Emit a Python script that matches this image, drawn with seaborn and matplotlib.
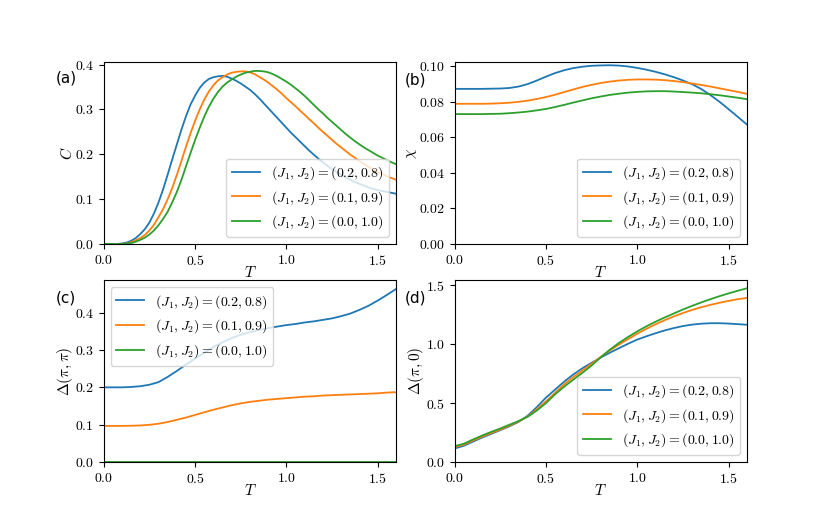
import numpy as np
import pandas as pd
import matplotlib
matplotlib.use("Agg")
import matplotlib.pyplot as plt
from matplotlib.ticker import MultipleLocator
import seaborn as sns

plt.rcParams['font.family'] = 'serif'
plt.rcParams['font.serif'] = ['cmr10']
plt.rcParams['mathtext.fontset'] = 'cm'
plt.rcParams['axes.formatter.use_mathtext'] = True
plt.rcParams['axes.unicode_minus'] = False

labels = [r'$(J_1, J_2) = (0.2, 0.8)$', r'$(J_1, J_2) = (0.1, 0.9)$', r'$(J_1, J_2) = (0.0, 1.0)$']
colors = ['#1f77b4', '#ff7f0e', '#2ca02c']

# temperature grids: step 0.025 for panel (a), step 0.05 for (b), (c), (d)
T_a = np.linspace(0.0, 1.6, 65)
T = np.linspace(0.0, 1.6, 33)

# (a) specific heat C
C_a = [0.000, 0.000, 0.000, 0.000, 0.001, 0.003, 0.007, 0.013, 0.022, 0.033, 0.048, 0.068, 0.093,
       0.122, 0.155, 0.189, 0.222, 0.255, 0.285, 0.311, 0.331, 0.348, 0.360, 0.368, 0.372, 0.374,
       0.375, 0.373, 0.369, 0.364, 0.358, 0.351, 0.344, 0.335, 0.325, 0.314, 0.303, 0.292, 0.281,
       0.270, 0.259, 0.248, 0.238, 0.228, 0.218, 0.208, 0.199, 0.190, 0.182, 0.174, 0.167, 0.160,
       0.154, 0.148, 0.143, 0.138, 0.134, 0.130, 0.126, 0.123, 0.120, 0.118, 0.116, 0.114, 0.112]
C_b = [0.000, 0.000, 0.000, 0.000, 0.000, 0.001, 0.004, 0.008, 0.013, 0.020, 0.030, 0.043, 0.060,
       0.078, 0.100, 0.125, 0.154, 0.185, 0.217, 0.247, 0.275, 0.300, 0.322, 0.340, 0.354, 0.365,
       0.372, 0.378, 0.382, 0.384, 0.385, 0.385, 0.383, 0.379, 0.373, 0.367, 0.360, 0.352, 0.344,
       0.335, 0.325, 0.316, 0.307, 0.297, 0.288, 0.278, 0.269, 0.259, 0.250, 0.241, 0.232, 0.223,
       0.215, 0.207, 0.199, 0.192, 0.185, 0.178, 0.172, 0.166, 0.161, 0.156, 0.151, 0.147, 0.143]
C_c = [0.000, 0.000, 0.000, 0.000, 0.000, 0.001, 0.002, 0.005, 0.009, 0.014, 0.021, 0.030, 0.042,
       0.056, 0.072, 0.093, 0.116, 0.143, 0.173, 0.203, 0.232, 0.259, 0.284, 0.306, 0.324, 0.339,
       0.351, 0.360, 0.367, 0.373, 0.378, 0.382, 0.384, 0.386, 0.386, 0.385, 0.383, 0.379, 0.374,
       0.368, 0.362, 0.355, 0.347, 0.339, 0.330, 0.320, 0.310, 0.300, 0.291, 0.281, 0.272, 0.263,
       0.254, 0.245, 0.237, 0.229, 0.222, 0.215, 0.209, 0.203, 0.197, 0.192, 0.187, 0.182, 0.178]

# (b) susceptibility chi
chi_a = [0.0873, 0.0873, 0.0873, 0.0873, 0.0874, 0.0875, 0.0878, 0.0886, 0.0900, 0.0920, 0.0942,
         0.0962, 0.0978, 0.0990, 0.0998, 0.1003, 0.1005, 0.1006, 0.1004, 0.0999, 0.0991, 0.0981,
         0.0969, 0.0955, 0.0939, 0.0920, 0.0899, 0.0872, 0.0838, 0.0800, 0.0758, 0.0715, 0.0672]
chi_b = [0.0789, 0.0789, 0.0789, 0.0789, 0.0790, 0.0792, 0.0795, 0.0800, 0.0807, 0.0816, 0.0827,
         0.0840, 0.0855, 0.0870, 0.0884, 0.0896, 0.0906, 0.0914, 0.0920, 0.0924, 0.0926, 0.0926,
         0.0925, 0.0922, 0.0917, 0.0911, 0.0903, 0.0895, 0.0886, 0.0876, 0.0866, 0.0856, 0.0845]
chi_c = [0.0731, 0.0731, 0.0731, 0.0731, 0.0732, 0.0733, 0.0736, 0.0740, 0.0745, 0.0752, 0.0760,
         0.0771, 0.0783, 0.0796, 0.0808, 0.0820, 0.0830, 0.0839, 0.0846, 0.0852, 0.0856, 0.0859,
         0.0860, 0.0860, 0.0858, 0.0855, 0.0852, 0.0848, 0.0843, 0.0837, 0.0830, 0.0823, 0.0815]

# (c) gap at (pi, pi)
dpp_a = [0.200, 0.200, 0.200, 0.201, 0.203, 0.207, 0.214, 0.228, 0.244, 0.261, 0.277, 0.293, 0.308,
         0.321, 0.332, 0.341, 0.348, 0.354, 0.359, 0.363, 0.367, 0.370, 0.374, 0.377, 0.381, 0.385,
         0.391, 0.398, 0.408, 0.419, 0.433, 0.448, 0.464]
dpp_b = [0.0965, 0.0965, 0.0966, 0.0970, 0.0978, 0.0995, 0.1025, 0.107, 0.113, 0.119, 0.126, 0.133,
         0.140, 0.146, 0.152, 0.157, 0.161, 0.164, 0.167, 0.169, 0.171, 0.173, 0.175, 0.176, 0.178,
         0.179, 0.180, 0.181, 0.182, 0.183, 0.184, 0.186, 0.187]
dpp_c = [0.0] * 33

# (d) gap at (pi, 0)
dp0_a = [0.114, 0.137, 0.172, 0.207, 0.238, 0.270, 0.303, 0.340, 0.393, 0.466, 0.547, 0.615, 0.683,
         0.744, 0.797, 0.843, 0.887, 0.929, 0.967, 1.005, 1.040, 1.068, 1.094, 1.118, 1.138, 1.155,
         1.167, 1.175, 1.179, 1.179, 1.176, 1.171, 1.166]
dp0_b = [0.126, 0.146, 0.181, 0.215, 0.245, 0.275, 0.309, 0.344, 0.386, 0.448, 0.515, 0.588, 0.660,
         0.722, 0.778, 0.835, 0.893, 0.948, 0.998, 1.045, 1.090, 1.132, 1.170, 1.205, 1.237, 1.266,
         1.292, 1.315, 1.335, 1.353, 1.369, 1.383, 1.394]
dp0_c = [0.134, 0.154, 0.190, 0.224, 0.255, 0.284, 0.316, 0.347, 0.384, 0.437, 0.500, 0.575, 0.640,
         0.700, 0.758, 0.820, 0.890, 0.955, 1.012, 1.063, 1.110, 1.153, 1.192, 1.228, 1.262, 1.296,
         1.327, 1.356, 1.383, 1.409, 1.433, 1.455, 1.476]

panels = [
    (T_a, [C_a, C_b, C_c], r'$C$', 'lower right', '(a)', (-0.163, 0.915)),
    (T, [chi_a, chi_b, chi_c], r'$\chi$', 'lower right', '(b)', (-0.172, 0.900)),
    (T, [dpp_a, dpp_b, dpp_c], r'$\Delta(\pi, \pi)$', 'upper left', '(c)', (-0.163, 0.900)),
    (T, [dp0_a, dp0_b, dp0_c], r'$\Delta(\pi, 0)$', 'lower right', '(d)', (-0.170, 0.905)),
]

fig, axes = plt.subplots(2, 2, figsize=(8.3, 5.19), dpi=100)
for ax, (Tg, series, ylab, loc, tag, pos) in zip(axes.flat, panels):
    for vals, lab, col in zip(series, labels, colors):
        df = pd.DataFrame({'T': Tg, 'v': vals})
        sns.lineplot(data=df, x='T', y='v', ax=ax, color=col, label=lab, linewidth=1.3)
    ax.set_xlim(0, 1.6)
    ax.set_ylim(bottom=0)
    ax.xaxis.set_major_locator(MultipleLocator(0.5))
    ax.set_xlabel(r'$T$', fontsize=11, labelpad=-2)
    ax.set_ylabel(ylab, fontsize=11, labelpad=0)
    ax.legend(loc=loc)
    ax.text(pos[0], pos[1], tag, transform=ax.transAxes, ha='left', va='center',
            fontsize=11, family='DejaVu Sans')

fig.savefig('out.png', dpi=100)
